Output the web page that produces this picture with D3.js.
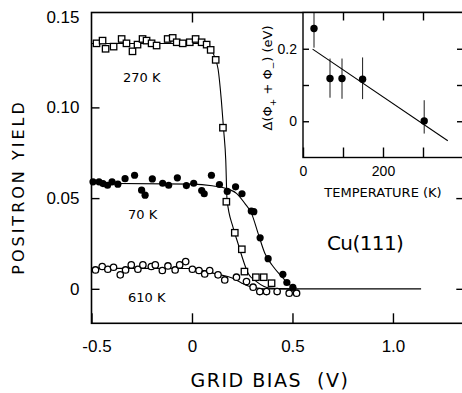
<!DOCTYPE html>
<html>
<head>
<meta charset="utf-8">
<script src="https://cdn.jsdelivr.net/npm/d3@7"></script>
<style>
  body { margin: 0; background: #fff; }
  svg { display: block; font-family: "DejaVu Sans", sans-serif; }
</style>
</head>
<body>
<div id="main"></div>
<script>
// 270 K, open squares
const bias270 = [-0.475, -0.445, -0.430, -0.390, -0.350, -0.326, -0.296, -0.271, -0.246, -0.226, -0.201, -0.176,
  -0.121, -0.096, -0.076, -0.046, -0.011, 0.018, 0.048, 0.073, 0.093, 0.118, 0.154, 0.171, 0.213, 0.248, 0.261,
  0.318, 0.357, 0.396];
const yield270 = [0.1353, 0.1368, 0.1323, 0.1335, 0.1377, 0.1353, 0.1309, 0.1346, 0.1377, 0.1368, 0.1353, 0.1341,
  0.1377, 0.1383, 0.1359, 0.1353, 0.1359, 0.1377, 0.1359, 0.1346, 0.1317, 0.1262, 0.0888, 0.0480, 0.0309, 0.0218,
  0.0095, 0.0064, 0.0064, 0.0031];
const fitBias270 = [-0.5, 0.05, 0.09, 0.115, 0.13, 0.146, 0.158, 0.168, 0.1745, 0.204, 0.229, 0.254, 0.279, 0.321, 0.387, 0.49];
const fitYield270 = [0.1352, 0.1352, 0.133, 0.127, 0.121, 0.104, 0.087, 0.071, 0.049, 0.034, 0.025, 0.016, 0.0086, 0.004, 0.0004, 0];

// 70 K, filled circles
const bias70 = [-0.4925, -0.4626, -0.4427, -0.4202, -0.3978, -0.3689, -0.3330, -0.2856, -0.2507, -0.2333, -0.1974,
  -0.1461, -0.1161, -0.0728, -0.0279, 0.0085, 0.0484, 0.0608, 0.0967, 0.1366, 0.1755, 0.2168, 0.2488, 0.2951,
  0.3076, 0.3390, 0.3789, 0.4522, 0.4721, 0.5020];
const yield70 = [0.0590, 0.0590, 0.0580, 0.0571, 0.0590, 0.0577, 0.0607, 0.0626, 0.0544, 0.0516, 0.0606, 0.0582,
  0.0571, 0.0612, 0.0569, 0.0582, 0.0542, 0.0524, 0.0626, 0.0575, 0.0537, 0.0562, 0.0524, 0.0429, 0.0425, 0.0281,
  0.0166, 0.0080, 0.0035, 0.0008];
const fitBias70 = [-0.5, 0.0, 0.1, 0.1715, 0.2213, 0.2627, 0.2961, 0.329, 0.3624, 0.4038, 0.4457, 0.487, 0.52];
const fitYield70 = [0.0582, 0.0577, 0.0568, 0.0553, 0.0526, 0.0471, 0.0416, 0.0306, 0.0196, 0.0123, 0.0068, 0.0022, 0.0004];

// 610 K, open circles
const bias610 = [-0.4801, -0.4467, -0.4187, -0.3903, -0.3569, -0.3305, -0.3021, -0.2692, -0.2443, -0.2024, -0.1825,
  -0.1476, -0.1196, -0.0838, -0.0613, -0.0314, 0.0020, 0.0349, 0.0633, 0.0882, 0.1296, 0.1630, 0.2213, 0.2712,
  0.3041, 0.3375, 0.3709, 0.4237, 0.4836, 0.5204];
const yield610 = [0.0104, 0.0123, 0.0108, 0.0119, 0.0077, 0.0104, 0.0132, 0.0108, 0.0132, 0.0123, 0.0132, 0.0101,
  0.0126, 0.0104, 0.0132, 0.0150, 0.0108, 0.0101, 0.0082, 0.0101, 0.0077, 0.0049, 0.0064, 0.0040, 0.0009, -0.0015,
  -0.0015, -0.0015, -0.0024, -0.0024];
const fitBias610 = [-0.5, -0.02, 0.05, 0.12, 0.2, 0.25, 0.3, 0.36];
const fitYield610 = [0.0113, 0.0112, 0.0102, 0.0082, 0.006, 0.003, 0.0008, 0];

const zeroBias = [0.36, 1.14];

const biasTicks = [-0.5, 0, 0.5, 1.0];
const biasTickLabels = ["-0.5", "0", "0.5", "1.0"];
const yieldTicks = [0, 0.05, 0.10, 0.15];
const yieldTickLabels = ["0", "0.05", "0.10", "0.15"];

// inset: work function sum vs temperature
const tempK = [27.5, 67.5, 97.5, 149, 303];
const deltaPhi = [0.256, 0.118, 0.118, 0.116, 0.001];
const errLow = [0.203, 0.065, 0.062, 0.061, -0.034];
const errHigh = [0.31, 0.173, 0.173, 0.176, 0.058];
const fitTemp = [24, 362];
const fitDelta = [0.199, -0.054];
const tempTicks = [0, 100, 200, 300];
const tempTickLabels = ["0", "", "200", ""];
const deltaTicks = [0, 0.1, 0.2];
const deltaTickLabels = ["0", "", "0.2"];

const width = 462;
const height = 393;

const svg = d3.select("div#main").append("svg")
  .attr("width", width)
  .attr("height", height);

const x = d3.scaleLinear().domain([-0.5, 1.35]).range([91.5, 463.3]);
const y = d3.scaleLinear().domain([-0.019, 0.1523]).range([323.3, 12.5]);
const tx = d3.scaleLinear().domain([0, 400]).range([303, 463]);
const ty = d3.scaleLinear().domain([-0.1, 0.3]).range([157.5, 12.5]);

const zip = (a, b) => a.map((v, i) => [v, b[i]]);

//Frame and ticks of the main plot.
svg.append("rect")
  .attr("x", x.range()[0]).attr("y", y.range()[1])
  .attr("width", x.range()[1] - x.range()[0])
  .attr("height", y.range()[0] - y.range()[1])
  .attr("fill", "none").attr("stroke", "#000").attr("stroke-width", 1.6);

const styleAxis = function (g) {
  g.select(".domain").remove();
  g.selectAll(".tick line").attr("stroke", "#000").attr("stroke-width", 1.4);
  g.selectAll(".tick text").attr("fill", "#000");
};

svg.append("g")
  .attr("transform", "translate(" + x.range()[0] + ",0)")
  .call(d3.axisLeft(y).tickValues(yieldTicks).tickSize(-8).tickPadding(12)
    .tickFormat((d, i) => yieldTickLabels[i]))
  .call(styleAxis)
  .call(g => g.selectAll(".tick").filter(d => d === 0.15).select("line").remove())
  .style("font-size", "17px");

svg.append("g")
  .attr("transform", "translate(0," + y.range()[0] + ")")
  .call(d3.axisBottom(x).tickValues(biasTicks).tickSize(-10).tickPadding(17)
    .tickFormat((d, i) => biasTickLabels[i]))
  .call(styleAxis)
  .call(g => g.selectAll(".tick text").attr("dx", d => d === -0.5 ? 5 : 0))
  .style("font-size", "17px");

svg.append("g")
  .attr("transform", "translate(0," + y.range()[1] + ")")
  .call(d3.axisTop(x).tickValues([0]).tickSize(-10).tickFormat(""))
  .call(styleAxis);

svg.append("g")
  .attr("transform", "translate(" + x.range()[1] + ",0)")
  .call(d3.axisRight(y).tickValues([0, 0.05]).tickSize(-7).tickFormat(""))
  .call(styleAxis);

//Fit curves and the zero line.
const line = d3.line().x(d => x(d[0])).y(d => y(d[1])).curve(d3.curveMonotoneX);
const fits = [zip(fitBias270, fitYield270), zip(fitBias70, fitYield70), zip(fitBias610, fitYield610),
  zip(zeroBias, [0, 0])];
svg.selectAll("path.fit").data(fits)
  .enter().append("path")
  .attr("class", "fit")
  .attr("d", line)
  .attr("fill", "none").attr("stroke", "#000").attr("stroke-width", 1.1);

//Markers.
svg.selectAll("circle.t70").data(zip(bias70, yield70))
  .enter().append("circle")
  .attr("class", "t70")
  .attr("cx", d => x(d[0])).attr("cy", d => y(d[1]))
  .attr("r", 3.6).attr("fill", "#000");

svg.selectAll("circle.t610").data(zip(bias610, yield610))
  .enter().append("circle")
  .attr("class", "t610")
  .attr("cx", d => x(d[0])).attr("cy", d => y(d[1]))
  .attr("r", 3.2).attr("fill", "#fff").attr("stroke", "#000").attr("stroke-width", 1.3);

svg.selectAll("rect.t270").data(zip(bias270, yield270))
  .enter().append("rect")
  .attr("class", "t270")
  .attr("x", d => x(d[0]) - 3.2).attr("y", d => y(d[1]) - 3.2)
  .attr("width", 6.4).attr("height", 6.4)
  .attr("fill", "#fff").attr("stroke", "#000").attr("stroke-width", 1.3);

//Curve labels.
const labels = [["270 K", 123, 82], ["70 K", 128, 219], ["610 K", 128, 302]];
svg.selectAll("text.curve").data(labels)
  .enter().append("text")
  .attr("class", "curve")
  .attr("x", d => d[1]).attr("y", d => d[2])
  .style("font-size", "13px")
  .text(d => d[0]);

svg.append("text")
  .attr("x", 327).attr("y", 250)
  .style("font-size", "20px").style("letter-spacing", "-0.6px")
  .text("Cu(111)");

svg.append("text")
  .attr("transform", "translate(24,187) rotate(-90)")
  .attr("text-anchor", "middle")
  .style("font-size", "16px").style("letter-spacing", "3px")
  .text("POSITRON YIELD");

svg.append("text")
  .attr("x", 270).attr("y", 387)
  .attr("text-anchor", "middle")
  .style("font-size", "19px").style("letter-spacing", "1.5px")
  .attr("xml:space", "preserve")
  .text("GRID BIAS  (V)");

//Inset.
const inset = svg.append("g");
inset.append("rect")
  .attr("x", tx.range()[0]).attr("y", ty.range()[1])
  .attr("width", tx.range()[1] - tx.range()[0])
  .attr("height", ty.range()[0] - ty.range()[1])
  .attr("fill", "#fff").attr("stroke", "#000").attr("stroke-width", 1.4);

inset.append("g")
  .attr("transform", "translate(0," + ty.range()[0] + ")")
  .call(d3.axisBottom(tx).tickValues(tempTicks).tickSize(-10).tickPadding(9)
    .tickFormat((d, i) => tempTickLabels[i]))
  .call(styleAxis)
  .style("font-size", "14px");

inset.append("g")
  .attr("transform", "translate(0," + ty.range()[1] + ")")
  .call(d3.axisTop(tx).tickValues(tempTicks.slice(1)).tickSize(-8).tickFormat(""))
  .call(styleAxis);

inset.append("g")
  .attr("transform", "translate(" + tx.range()[0] + ",0)")
  .call(d3.axisLeft(ty).tickValues(deltaTicks).tickSize(-6).tickPadding(6)
    .tickFormat((d, i) => deltaTickLabels[i]))
  .call(styleAxis)
  .style("font-size", "14px");

inset.append("g")
  .attr("transform", "translate(" + tx.range()[1] + ",0)")
  .call(d3.axisRight(ty).tickValues(deltaTicks).tickSize(-6).tickFormat(""))
  .call(styleAxis);

inset.append("path")
  .datum(zip(fitTemp, fitDelta))
  .attr("d", d3.line().x(d => tx(d[0])).y(d => ty(d[1])))
  .attr("fill", "none").attr("stroke", "#000").attr("stroke-width", 1.1);

inset.selectAll("line.err").data(tempK)
  .enter().append("line")
  .attr("class", "err")
  .attr("x1", d => tx(d)).attr("x2", d => tx(d))
  .attr("y1", (d, i) => ty(Math.min(errHigh[i], 0.3)))
  .attr("y2", (d, i) => ty(errLow[i]))
  .attr("stroke", "#000").attr("stroke-width", 0.9);

inset.selectAll("circle").data(zip(tempK, deltaPhi))
  .enter().append("circle")
  .attr("cx", d => tx(d[0])).attr("cy", d => ty(d[1]))
  .attr("r", 3.7).attr("fill", "#000");

inset.append("text")
  .attr("x", 383).attr("y", 197)
  .attr("text-anchor", "middle")
  .style("font-size", "13px")
  .text("TEMPERATURE (K)");

const ylab = inset.append("text")
  .attr("transform", "translate(272,78) rotate(-90)")
  .attr("text-anchor", "middle")
  .style("font-size", "13px");
ylab.append("tspan").text("\u0394(\u03a6");
ylab.append("tspan").attr("dy", 4).style("font-size", "9px").text("+");
ylab.append("tspan").attr("dy", -4).text(" + \u03a6");
ylab.append("tspan").attr("dy", 4).style("font-size", "9px").text("\u2212");
ylab.append("tspan").attr("dy", -4).text(") (eV)");
</script>
</body>
</html>
